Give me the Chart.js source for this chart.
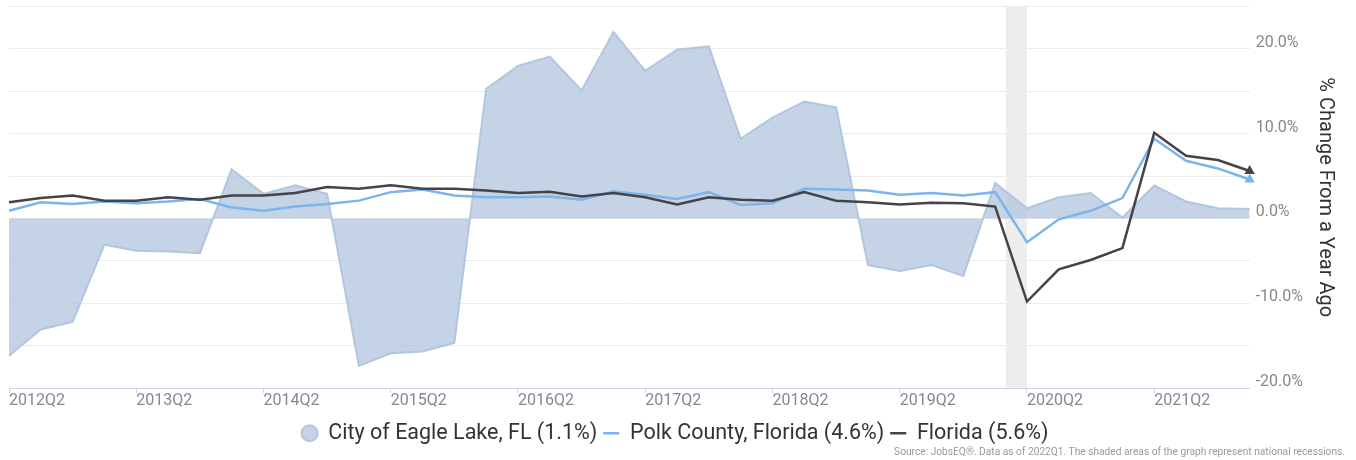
<!DOCTYPE html>
<html>
<head>
<meta charset="utf-8">
<script src="https://cdn.jsdelivr.net/npm/chart.js@4.4.0/dist/chart.umd.min.js"></script>
<style>
  html, body { margin: 0; padding: 0; background: #fff; }
  #wrap { position: relative; width: 1356px; height: 460px; }
  #source {
    position: absolute; right: 11px; bottom: 3px;
    font: 10.2px Roboto, sans-serif; color: #999;
  }
</style>
</head>
<body>
<div id="wrap">
  <canvas id="chart" width="1356" height="460"></canvas>
  <div id="source">Source: JobsEQ®. Data as of 2022Q1. The shaded areas of the graph represent national recessions.</div>
</div>
<script>
const quarters = [
  '2012Q2', '2012Q3', '2012Q4', '2013Q1', '2013Q2', '2013Q3', '2013Q4', '2014Q1',
  '2014Q2', '2014Q3', '2014Q4', '2015Q1', '2015Q2', '2015Q3', '2015Q4', '2016Q1',
  '2016Q2', '2016Q3', '2016Q4', '2017Q1', '2017Q2', '2017Q3', '2017Q4', '2018Q1',
  '2018Q2', '2018Q3', '2018Q4', '2019Q1', '2019Q2', '2019Q3', '2019Q4', '2020Q1',
  '2020Q2', '2020Q3', '2020Q4', '2021Q1', '2021Q2', '2021Q3', '2021Q4', '2022Q1'
];

const eagleLake = [
  -16.2, -13.1, -12.2, -3.1, -3.8, -3.9, -4.1, 5.8, 2.9, 3.9,
  2.9, -17.4, -15.9, -15.7, -14.7, 15.3, 18.0, 19.1, 15.1, 22.0,
  17.4, 19.9, 20.3, 9.4, 11.9, 13.8, 13.1, -5.5, -6.2, -5.5,
  -6.8, 4.2, 1.2, 2.5, 3.0, 0.1, 3.9, 2.0, 1.2, 1.1
];

const polk = [
  0.9, 1.9, 1.7, 2.0, 1.8, 2.0, 2.3, 1.3, 0.9, 1.4,
  1.7, 2.1, 3.1, 3.4, 2.7, 2.5, 2.5, 2.6, 2.2, 3.2,
  2.8, 2.3, 3.1, 1.6, 1.8, 3.5, 3.4, 3.3, 2.8, 3.0,
  2.7, 3.1, -2.8, -0.1, 0.9, 2.4, 9.4, 6.8, 5.9, 4.6
];

const florida = [
  1.9, 2.4, 2.7, 2.1, 2.1, 2.5, 2.2, 2.7, 2.7, 3.0,
  3.7, 3.5, 3.9, 3.5, 3.5, 3.3, 3.0, 3.15, 2.6, 3.0,
  2.5, 1.65, 2.5, 2.2, 2.1, 3.1, 2.1, 1.9, 1.65, 1.85,
  1.8, 1.4, -9.8, -6.0, -4.9, -3.5, 10.1, 7.4, 6.9, 5.6
];

// national recessions (start quarter, end quarter)
const recessions = [['2020Q1', '2020Q2']];

const last = quarters.length - 1;
const withLast = (name, arr) => name + ' (' + arr[last].toFixed(1) + '%)';

// last point gets a small arrow marker, like the original
const endRadius = ctx => ctx.dataIndex === last ? 3.5 : 0;
const endStyle = ctx => ctx.dataIndex === last ? 'triangle' : 'line';
const endRotation = ctx => ctx.dataIndex === last ? 120 : 0;

const recessionBands = {
  id: 'recessionBands',
  beforeDatasetsDraw(chart) {
    const {ctx, chartArea, scales} = chart;
    ctx.save();
    ctx.fillStyle = '#ededed';
    recessions.forEach(([from, to]) => {
      // peak falls in the 2nd month of the start quarter
      const x1 = scales.x.getPixelForValue(quarters.indexOf(from) + 1 / 3);
      const x2 = scales.x.getPixelForValue(quarters.indexOf(to));
      ctx.fillRect(x1, chartArea.top, x2 - x1, chartArea.bottom - chartArea.top);
    });
    ctx.restore();
  }
};

Chart.defaults.font.family = 'Roboto, sans-serif';

new Chart(document.getElementById('chart').getContext('2d'), {
  type: 'line',
  data: {
    labels: quarters,
    datasets: [{
      label: withLast('City of Eagle Lake, FL', eagleLake),
      data: eagleLake,
      fill: 'origin',
      backgroundColor: 'rgba(176, 196, 222, 0.75)',
      borderColor: 'rgba(176, 196, 222, 0.95)',
      borderWidth: 2,
      pointStyle: 'circle',
      pointRadius: 0,
      order: 2
    }, {
      label: withLast('Polk County, Florida', polk),
      data: polk,
      fill: false,
      borderColor: '#7cb5ec',
      backgroundColor: '#7cb5ec',
      borderWidth: 2.5,
      pointStyle: endStyle,
      pointRotation: endRotation,
      pointRadius: endRadius,
      order: 1
    }, {
      label: withLast('Florida', florida),
      data: florida,
      fill: false,
      borderColor: '#434348',
      backgroundColor: '#434348',
      borderWidth: 2.5,
      pointStyle: endStyle,
      pointRotation: endRotation,
      pointRadius: endRadius,
      order: 0
    }]
  },
  options: {
    responsive: false,
    animation: false,
    events: [],
    layout: { padding: { left: 9, top: 0, right: 15, bottom: 6 } },
    elements: { line: { tension: 0 } },
    scales: {
      x: {
        type: 'category',
        offset: false,
        border: { color: '#ccd6eb', width: 1 },
        grid: { drawOnChartArea: false, drawTicks: true, tickLength: 5, color: '#ccd6eb' },
        ticks: {
          autoSkip: false,
          maxRotation: 0,
          align: 'start',
          padding: 0,
          color: '#888',
          font: { size: 16, lineHeight: 1 },
          callback: (v, i) => i % 4 === 0 ? quarters[i] : null
        },
        // a bit of room between the tick labels and the legend
        afterFit: s => { s.height += 7.5; }
      },
      y: {
        position: 'right',
        min: -20,
        max: 25,
        border: { display: false },
        grid: { color: '#ececec', drawTicks: false },
        ticks: {
          stepSize: 5,
          padding: 6,
          labelOffset: -6,
          color: '#888',
          font: { size: 16, lineHeight: 0 },
          callback: v => v % 10 === 0 ? v.toFixed(1) + '%' : ''
        },
        title: {
          display: true,
          text: '% Change From a Year Ago',
          color: '#333',
          font: { size: 20 }
        }
      }
    },
    plugins: {
      legend: {
        position: 'bottom',
        labels: {
          usePointStyle: true,
          pointStyleWidth: 16,
          boxHeight: 11.3,
          padding: 6,
          color: '#333',
          font: { size: 21.5 },
          sort: (a, b) => a.datasetIndex - b.datasetIndex
        }
      },
      tooltip: { enabled: false }
    }
  },
  plugins: [recessionBands]
});
</script>
</body>
</html>
